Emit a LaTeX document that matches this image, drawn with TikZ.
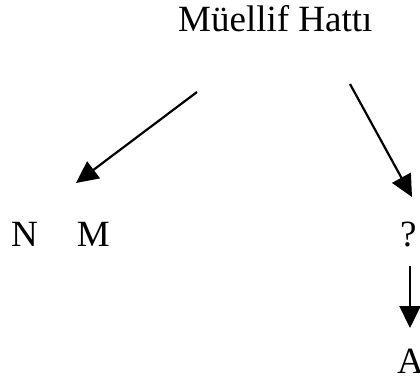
\documentclass[tikz,border=0pt]{standalone}
\usepackage{fontspec}
\setmainfont{Liberation Serif}
\usetikzlibrary{arrows.meta}
\begin{document}
\begin{tikzpicture}[x=1pt,y=-1pt,
  lbl/.style={inner sep=0pt,anchor=base west,font=\fontsize{37}{44}\selectfont},
  arr/.style={line width=2.2pt,-{Triangle[length=22pt,width=21pt]}}]
\useasboundingbox (0,0) rectangle (420,379);
\node[lbl] (title) at (178,32) {Müellif Hattı};
\node[lbl] (nm) at (11,247) {N\hspace{39pt}M};
\node[lbl] (q) at (400,247) {?};
\node[lbl] (a) at (397,373) {A};
\coordinate (s1) at (197,92);
\coordinate (e1) at (76,183);
\coordinate (s2) at (350,84);
\coordinate (e2) at (412,197);
\coordinate (s3) at (410,266);
\coordinate (e3) at (410,328);
\draw[arr] (s1) -- (e1);
\draw[arr] (s2) -- (e2);
\draw[arr] (s3) -- (e3);
\end{tikzpicture}
\end{document}
